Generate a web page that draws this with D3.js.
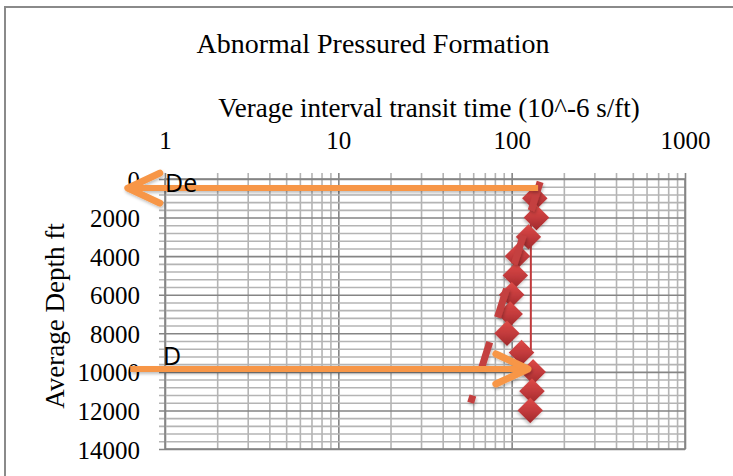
<!DOCTYPE html>
<html lang="en">
<head>
<meta charset="utf-8">
<title>Abnormal Pressured Formation</title>
<script src="https://cdn.jsdelivr.net/npm/d3@7"></script>
<style>
  body { margin: 0; background: #fff; }
  svg { display: block; }
</style>
</head>
<body>
<script>

var w = 733;
var h = 476;

// measured points: depth (ft) vs interval transit time (10^-6 s/ft)
var depths  = [1000, 2000, 3000, 4000, 5000, 6000, 7000, 8000, 9000, 10000, 11000, 12000];
var transit = [136, 139, 125, 108, 105, 100, 98, 94, 114, 133, 131, 128];

// dashed trend line (two ends) and the normal-trend vertical line
var trendDepth = [150, 11600];
var trendValue = [146, 58];
var normalDepth = [400, 9000];
var normalValue = [129, 129];

// annotation arrows: De at top, D at ~9850 ft
var arrowTopDepth = [470, 470];
var arrowTopValue = [142, 0.61];
var arrowBotDepth = [9850, 9850];
var arrowBotValue = [0.63, 124];

var xTicks = [1, 10, 100, 1000];
var yTicks = [0, 2000, 4000, 6000, 8000, 10000, 12000, 14000];

var pl = 165, pr = 685, pt = 179, pb = 449;
var serif = '"Liberation Serif", "Times New Roman", serif';

var x = d3.scaleLog().domain([1, 1000]).range([pl, pr]);
var y = d3.scaleLinear().domain([0, 14000]).range([pt, pb]);

var svg = d3.select('body').append('svg')
    .attr('width', w)
    .attr('height', h);

var defs = svg.append('defs');
var grad = defs.append('linearGradient')
    .attr('id', 'dia')
    .attr('x1', '0').attr('y1', '0').attr('x2', '1').attr('y2', '1');
grad.append('stop').attr('offset', '0%').attr('stop-color', '#de4a47');
grad.append('stop').attr('offset', '55%').attr('stop-color', '#c0393b');
grad.append('stop').attr('offset', '100%').attr('stop-color', '#9e2a2b');

var shadow = defs.append('filter').attr('id', 'shadow')
    .attr('x', '-20%').attr('y', '-50%').attr('width', '140%').attr('height', '200%');
shadow.append('feDropShadow')
    .attr('dx', 1).attr('dy', 2).attr('stdDeviation', 1.5)
    .attr('flood-color', '#000').attr('flood-opacity', 0.25);

// outer chart frame (runs off the right and bottom)
svg.append('rect')
    .attr('x', 5).attr('y', 7)
    .attr('width', w + 20).attr('height', h + 20)
    .attr('fill', 'none')
    .attr('stroke', '#8a8a8a')
    .attr('stroke-width', 2);

// minor + major grid values
var xMinor = [];
[1, 10, 100].forEach(function(d) {
    for (var i = 1; i < 10; i++) xMinor.push(d * i);
});
xMinor.push(1000);
var yMinor = d3.range(0, 14001, 400);

// vertical grid, ticks sticking out above the plot
svg.append('g')
    .attr('class', 'grid')
    .attr('transform', 'translate(0,' + (pt - 6) + ')')
    .call(d3.axisTop(x).tickValues(xMinor).tickSize(-(pb - pt + 6)).tickFormat(''))
    .call(function(g) {
        g.select('.domain').remove();
        g.selectAll('line')
            .attr('stroke', function(d) { return xTicks.indexOf(d) >= 0 ? '#858585' : '#b4b4b4'; })
            .attr('stroke-width', 1.6);
    });

// horizontal grid, ticks sticking out to the left
svg.append('g')
    .attr('class', 'grid')
    .attr('transform', 'translate(' + (pl - 6) + ',0)')
    .call(d3.axisLeft(y).tickValues(yMinor).tickSize(-(pr - pl + 6)).tickFormat(''))
    .call(function(g) {
        g.select('.domain').remove();
        g.selectAll('line')
            .attr('stroke', function(d) { return d % 2000 === 0 ? '#858585' : '#b4b4b4'; })
            .attr('stroke-width', 1.6);
    });

// plot frame
svg.append('rect')
    .attr('x', pl).attr('y', pt)
    .attr('width', pr - pl).attr('height', pb - pt)
    .attr('fill', 'none')
    .attr('stroke', '#858585')
    .attr('stroke-width', 1.6);

// tick labels
svg.append('g')
    .attr('transform', 'translate(0,' + (pt - 27) + ')')
    .call(d3.axisTop(x).tickValues(xTicks).tickSize(0).tickFormat(d3.format('d')))
    .call(function(g) {
        g.select('.domain').remove();
        g.selectAll('text')
            .attr('font-family', serif)
            .attr('font-size', '25px')
            .attr('fill', '#000');
    });

svg.append('g')
    .attr('transform', 'translate(' + (pl - 22) + ',0)')
    .call(d3.axisLeft(y).tickValues(yTicks).tickSize(0).tickFormat(d3.format('d')))
    .call(function(g) {
        g.select('.domain').remove();
        g.selectAll('text')
            .attr('font-family', serif)
            .attr('font-size', '25px')
            .attr('dy', '0.36em')
            .attr('fill', '#000');
    });

// titles
svg.append('text')
    .text('Abnormal Pressured Formation')
    .attr('x', 373).attr('y', 53)
    .attr('text-anchor', 'middle')
    .attr('font-family', serif)
    .attr('font-size', '28px');

svg.append('text')
    .text('Verage interval transit time (10^-6 s/ft)')
    .attr('x', 429).attr('y', 117)
    .attr('text-anchor', 'middle')
    .attr('font-family', serif)
    .attr('font-size', '27px');

svg.append('text')
    .text('Average Depth ft')
    .attr('transform', 'translate(64,316) rotate(-90)')
    .attr('text-anchor', 'middle')
    .attr('font-family', serif)
    .attr('font-size', '27px');

// normal trend (thin vertical)
var line = d3.line()
    .x(function(d) { return x(d[1]); })
    .y(function(d) { return y(d[0]); });

svg.append('path')
    .datum(d3.zip(normalDepth, normalValue))
    .attr('d', line)
    .attr('fill', 'none')
    .attr('stroke', '#c0393b')
    .attr('stroke-width', 2);

// diamonds
svg.selectAll('.pt')
    .data(d3.zip(depths, transit))
    .enter()
    .append('rect')
    .attr('class', 'pt')
    .attr('x', -9).attr('y', -9)
    .attr('width', 18).attr('height', 18)
    .attr('fill', 'url(#dia)')
    .attr('filter', 'url(#shadow)')
    .attr('transform', function(d) {
        return 'translate(' + x(d[1]) + ',' + y(d[0]) + ') rotate(45)';
    });

// dashed trend
svg.append('path')
    .datum(d3.zip(trendDepth, trendValue))
    .attr('d', line)
    .attr('fill', 'none')
    .attr('stroke', '#c4403f')
    .attr('stroke-width', 7)
    .attr('stroke-dasharray', '30,26')
    .attr('filter', 'url(#shadow)');

// arrows
function arrow(ds, vs) {
    var p1 = [x(vs[1]), y(ds[1])];
    var dir = x(vs[1]) > x(vs[0]) ? 1 : -1;
    var g = svg.append('g').attr('filter', 'url(#shadow)');
    g.append('path')
        .datum([[ds[0], vs[0]], [ds[1], vs[1]]])
        .attr('d', line)
        .attr('fill', 'none')
        .attr('stroke', '#f79646')
        .attr('stroke-width', 6);
    g.append('path')
        .attr('d', 'M' + (p1[0] - dir * 32) + ',' + (p1[1] - 15) +
                   'L' + p1[0] + ',' + p1[1] +
                   'L' + (p1[0] - dir * 32) + ',' + (p1[1] + 15))
        .attr('fill', 'none')
        .attr('stroke', '#f79646')
        .attr('stroke-width', 7)
        .attr('stroke-linecap', 'round')
        .attr('stroke-linejoin', 'round');
}
arrow(arrowTopDepth, arrowTopValue);
arrow(arrowBotDepth, arrowBotValue);

svg.append('text')
    .text('De')
    .attr('x', 165).attr('y', 192)
    .attr('font-family', '"Open Sans", "Liberation Sans", sans-serif')
    .attr('font-size', '25px');

svg.append('text')
    .text('D')
    .attr('x', 163).attr('y', 365)
    .attr('font-family', '"Open Sans", "Liberation Sans", sans-serif')
    .attr('font-size', '25px');

</script>
</body>
</html>
